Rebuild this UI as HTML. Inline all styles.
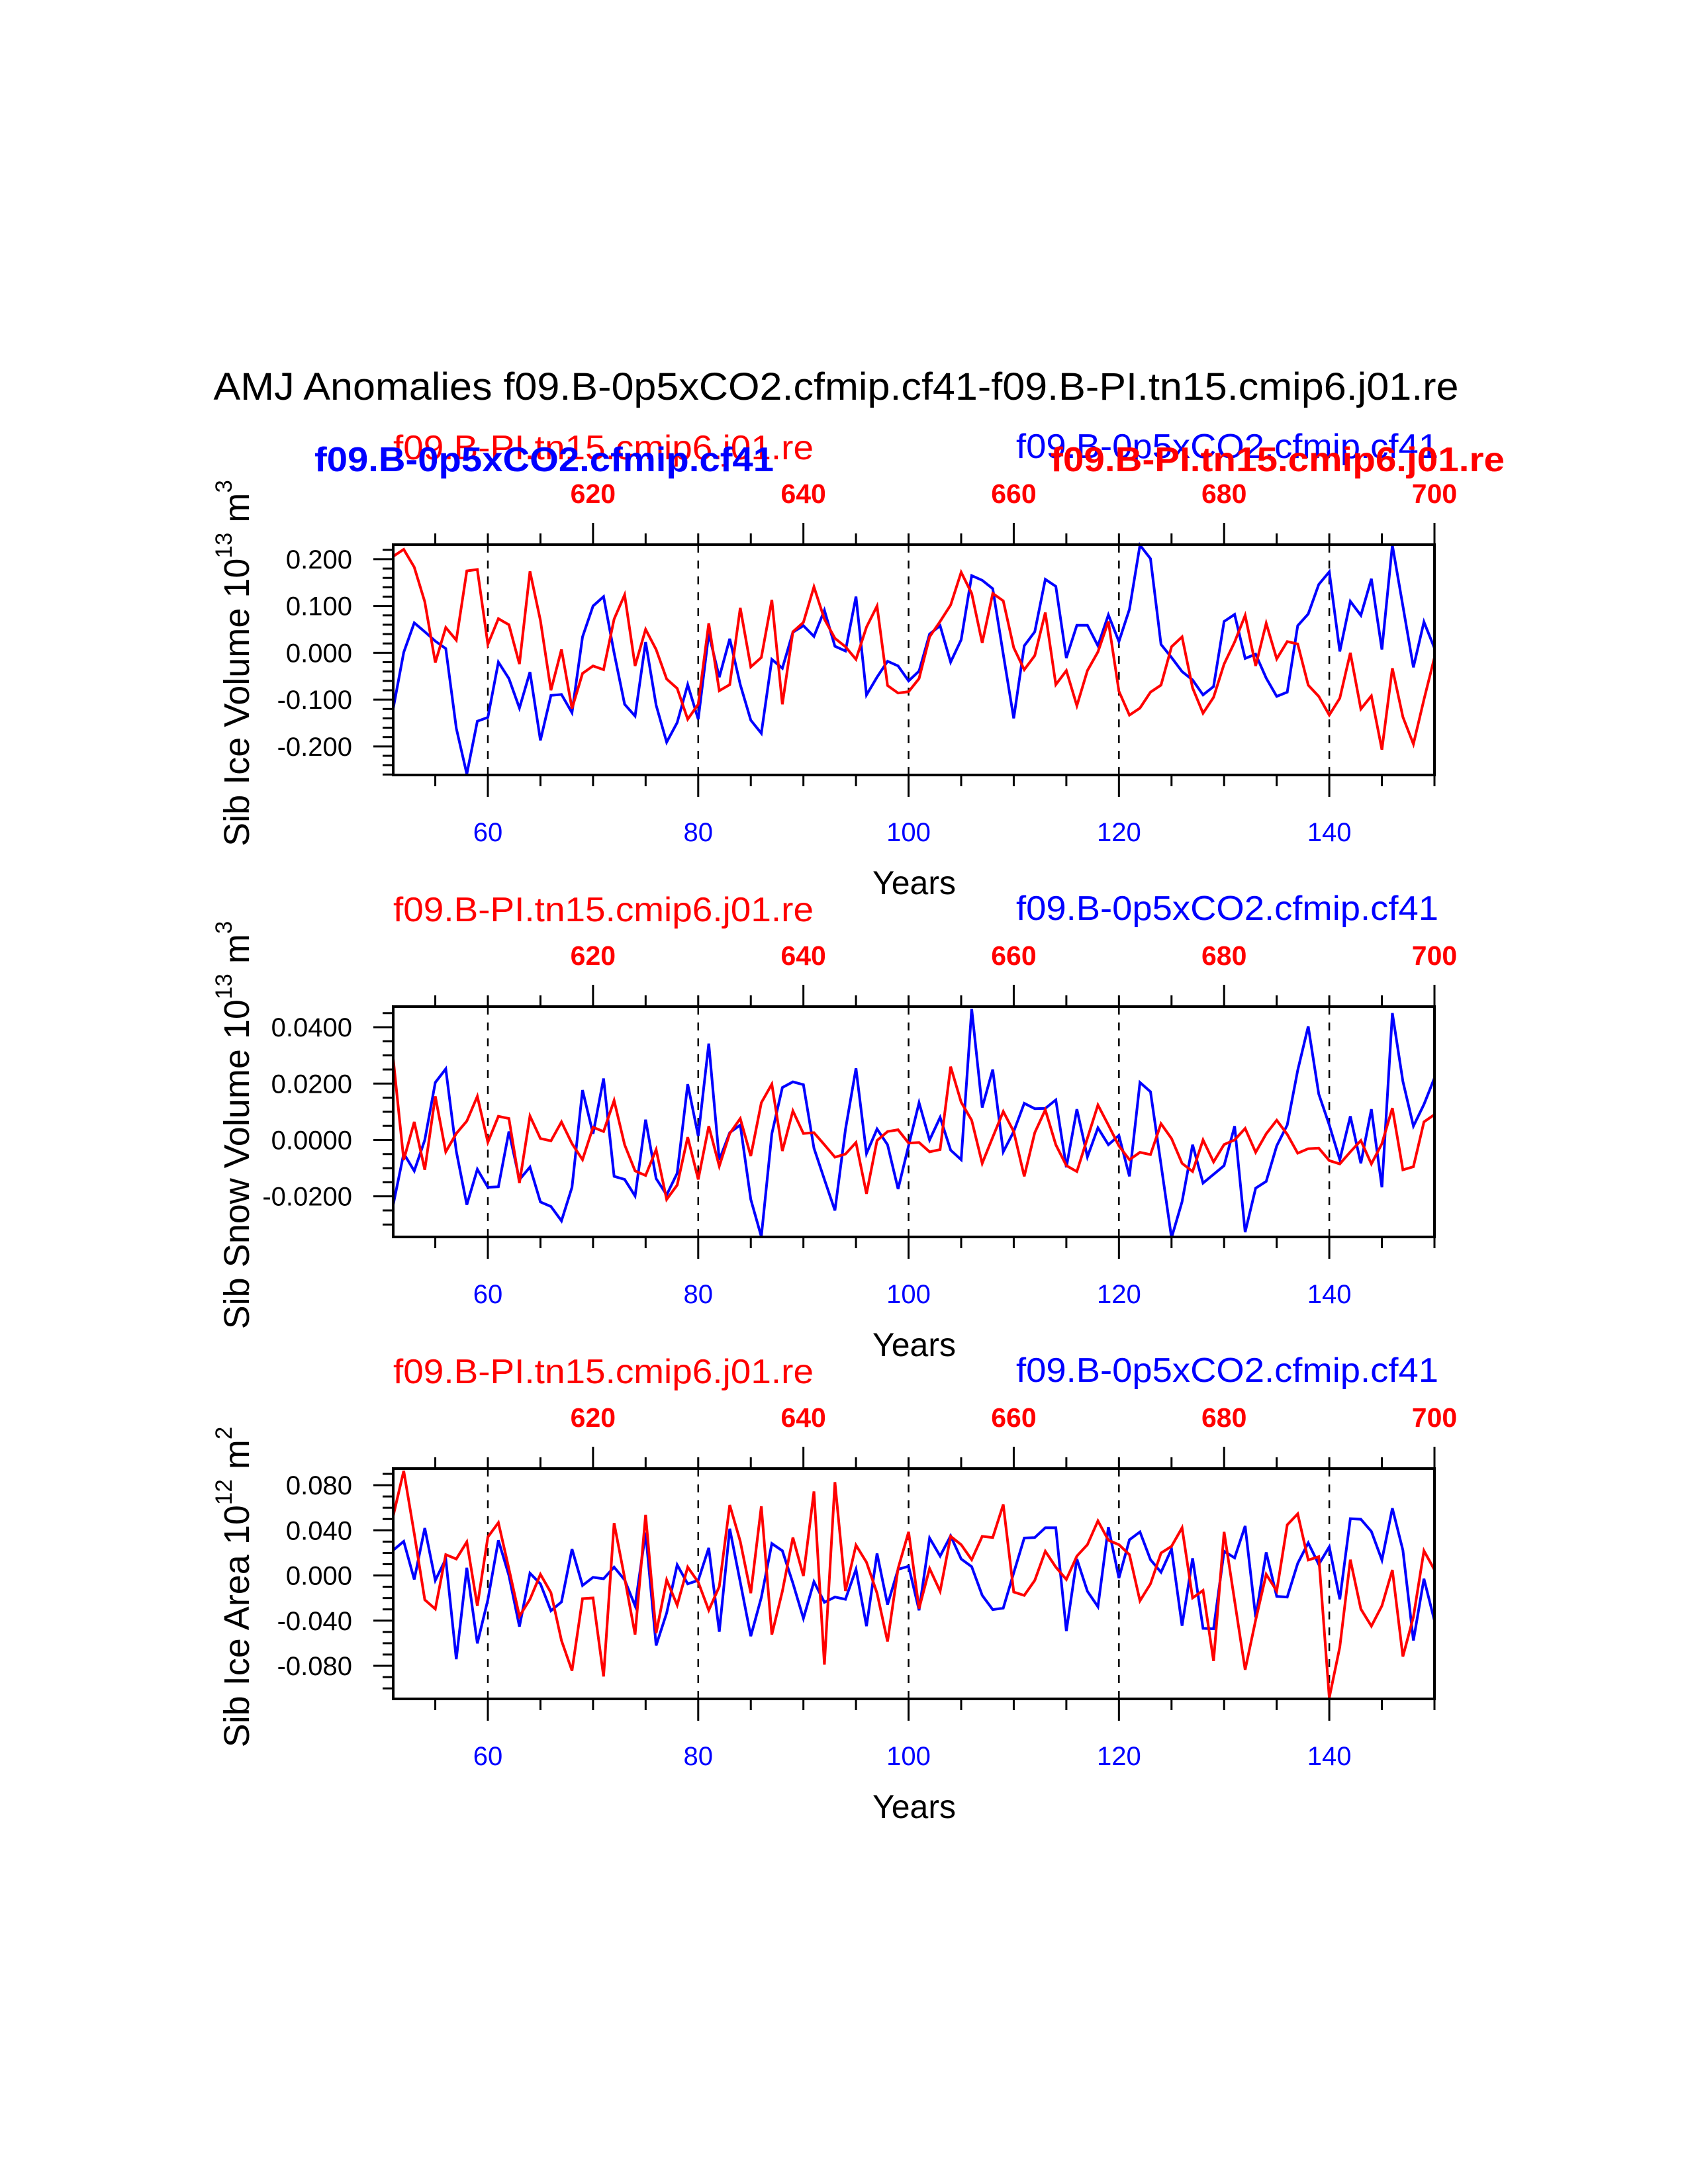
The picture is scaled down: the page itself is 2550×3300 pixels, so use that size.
<!DOCTYPE html>
<html><head><meta charset="utf-8"><style>
html,body{margin:0;padding:0;background:#fff;}
svg{display:block;font-family:"Liberation Sans",Arial,sans-serif;}
</style></head><body>
<svg id="chart" width="2550" height="3300" viewBox="0 0 2550 3300" xmlns="http://www.w3.org/2000/svg">
<text x="1263" y="604" font-size="58" text-anchor="middle" textLength="1881" lengthAdjust="spacingAndGlyphs">AMJ Anomalies f09.B-0p5xCO2.cfmip.cf41-f09.B-PI.tn15.cmip6.j01.re</text>
</svg>
<script>
const years = [];
for (let y = 51; y <= 150; y++) years.push(y);
const bottomTicks = [60, 80, 100, 120, 140];
const topTickLabels = [620, 640, 660, 680, 700];
const yearOffset = 550;

const iceVolBlue = [-0.119,0.001,0.064,0.045,0.025,0.009,-0.161,-0.259,-0.146,-0.138,
-0.02,-0.055,-0.118,-0.041,-0.187,-0.091,-0.089,-0.128,0.034,0.1,
0.12,0.0,-0.11,-0.135,0.023,-0.112,-0.191,-0.149,-0.068,-0.142,
0.041,-0.052,0.03,-0.068,-0.144,-0.172,-0.014,-0.033,0.044,0.058,
0.035,0.091,0.014,0.004,0.12,-0.09,-0.052,-0.018,-0.028,
-0.06,-0.039,0.04,0.058,-0.02,0.028,0.165,0.155,0.137,-0.003,
-0.14,0.015,0.045,0.157,0.142,-0.011,0.059,0.059,0.015,0.081,
0.024,0.093,0.23,0.201,0.018,-0.01,-0.04,-0.058,-0.09,-0.072,
0.067,0.082,-0.012,-0.003,-0.054,-0.093,-0.084,0.058,0.083,0.146,
0.173,0.003,0.11,0.08,0.158,0.007,0.23,0.1,-0.031,0.066,0.01];
const iceVolRed = [0.206,0.221,0.183,0.109,-0.021,0.054,0.027,0.175,0.178,0.018,
0.073,0.06,-0.024,0.174,0.069,-0.08,0.007,-0.119,-0.044,-0.028,
-0.036,0.072,0.124,-0.028,0.05,0.007,-0.056,-0.076,-0.142,-0.11,
0.063,-0.081,-0.068,0.096,-0.03,-0.01,0.113,-0.11,0.045,0.065,
0.141,0.072,0.031,0.013,-0.014,0.055,0.1,-0.07,-0.086,
-0.083,-0.055,0.034,0.067,0.102,0.172,0.127,0.021,0.127,0.111,
0.011,-0.036,-0.006,0.086,-0.068,-0.038,-0.113,-0.038,0.002,0.067,
-0.082,-0.133,-0.118,-0.084,-0.069,0.013,0.034,-0.075,-0.129,-0.095,
-0.024,0.023,0.08,-0.028,0.063,-0.013,0.024,0.019,-0.069,-0.093,
-0.133,-0.097,0,-0.12,-0.092,-0.207,-0.033,-0.137,-0.195,-0.1,-0.01];
const snowBlue = [-0.023,-0.0048,-0.011,0.0,0.0204,0.0252,-0.004,-0.023,-0.0104,-0.0168,
-0.0166,0.003,-0.0141,-0.0096,-0.022,-0.0236,-0.0287,-0.0168,0.0177,0.0022,
0.0218,-0.0129,-0.014,-0.0199,0.0072,-0.0137,-0.0195,-0.0118,0.0198,0.0014,
0.0342,-0.0071,0.0026,0.0053,-0.0211,-0.0343,0.0022,0.0186,0.0206,0.0196,
-0.0029,-0.014,-0.025,0.0037,0.0254,-0.0048,0.0039,-0.0017,-0.0174,
-0.002,0.0132,0.0,0.008,-0.0036,-0.007,0.0465,0.0115,0.025,-0.0042,
0.003,0.013,0.0111,0.0112,0.0142,-0.0097,0.0109,-0.006,0.0043,-0.0017,
0.0016,-0.0129,0.0204,0.0171,-0.0087,-0.0347,-0.0219,-0.0017,-0.0153,-0.0122,
-0.0091,0.0049,-0.0327,-0.0171,-0.0147,-0.0021,0.0053,0.0247,0.0403,0.0163,
0.0053,-0.007,0.0084,-0.0083,0.0109,-0.0168,0.045,0.0208,0.0049,0.0126,0.022];
const snowRed = [0.0289,-0.0071,0.0064,-0.0106,0.0155,-0.0042,0.0023,0.0067,0.0155,-0.0008,
0.0084,0.0076,-0.0153,0.0085,0.0005,-0.0003,0.0064,-0.0013,-0.007,0.0045,
0.003,0.014,-0.0017,-0.011,-0.0126,-0.0034,-0.0211,-0.016,0.001,-0.014,
0.0049,-0.0093,0.0023,0.0076,-0.0057,0.0132,0.0198,-0.0039,0.0103,0.0023,
0.0026,-0.0017,-0.0061,-0.005,-0.0009,-0.0191,-0.0002,0.003,0.0036,
-0.0011,-0.0009,-0.0042,-0.0034,0.026,0.0134,0.007,-0.0083,0.001,0.0101,
0.003,-0.0129,0.0026,0.0107,-0.0017,-0.0091,-0.0112,0.0006,0.0124,0.0053,
-0.0021,-0.007,-0.0044,-0.0052,0.0058,0.0005,-0.0083,-0.0112,0.0,-0.0078,
-0.0016,0.0,0.0041,-0.0044,0.0022,0.007,0.002,-0.0047,-0.0031,-0.0029,
-0.0073,-0.0085,-0.0042,-0.0002,-0.0085,-0.0013,0.0113,-0.0106,-0.0095,0.0064,0.009];
const areaBlue = [0.0224,0.0302,-0.0035,0.042,-0.0043,0.0146,-0.0741,0.0068,-0.0601,-0.0215,
0.0312,0.0,-0.0453,0.002,-0.0074,-0.0312,-0.0234,0.0234,-0.0088,-0.0016,
-0.0029,0.0074,-0.0039,-0.0269,0.038,-0.062,-0.0332,0.0094,-0.0074,-0.0043,
0.0244,-0.0498,0.0414,-0.0059,-0.0537,-0.0195,0.0283,0.0219,-0.0068,-0.038,
-0.0055,-0.0238,-0.0191,-0.0211,0.0055,-0.0449,0.0195,-0.0258,0.0055,
0.0082,-0.0308,0.0332,0.0172,0.0351,0.0146,0.0078,-0.0176,-0.0302,-0.0289,
0.0023,0.0332,0.0336,0.0423,0.0423,-0.0492,0.0146,-0.014,-0.0277,0.0429,
-0.0023,0.0316,0.0386,0.014,0.0029,0.0234,-0.0445,0.0152,-0.0468,-0.0472,
0.0215,0.0156,0.0439,-0.0371,0.0205,-0.0185,-0.0191,0.0107,0.0289,0.0098,
0.0254,-0.0211,0.0503,0.0498,0.039,0.0137,0.0595,0.0224,-0.0576,-0.0029,-0.04];
const areaRed = [0.0527,0.0927,0.0371,-0.0215,-0.0297,0.0185,0.0146,0.0297,-0.0269,0.0341,
0.0468,0.0059,-0.0361,-0.0211,0.001,-0.0152,-0.0576,-0.0843,-0.0205,-0.0199,
-0.0894,0.0464,-0.002,-0.0523,0.0537,-0.0511,-0.0039,-0.0263,0.0074,-0.0059,
-0.0308,-0.0098,0.0624,0.0302,-0.0156,0.0613,-0.0523,-0.014,0.0336,-0.0004,
0.0745,-0.079,0.0827,-0.0137,0.0269,0.0117,-0.0156,-0.0585,0.0062,
0.0386,-0.0293,0.0062,-0.014,0.0347,0.0273,0.014,0.0347,0.0336,0.0628,
-0.0146,-0.0176,-0.0043,0.0215,0.0074,-0.0035,0.0172,0.0273,0.0484,0.0312,
0.0273,0.0185,-0.0224,-0.0074,0.0199,0.0258,0.0423,-0.0199,-0.0133,-0.0757,
0.0386,-0.0224,-0.0835,-0.0394,0.001,-0.0137,0.0449,0.0546,0.0137,0.0166,
-0.1083,-0.0634,0.014,-0.0297,-0.0449,-0.0269,0.0049,-0.0718,-0.0367,0.0219,0.005];

const ticks1 = [0.2, 0.1, 0, -0.1, -0.2];
const tickLabels1 = ["0.200","0.100","0.000","-0.100","-0.200"];
const ticks2 = [0.04, 0.02, 0, -0.02];
const tickLabels2 = ["0.0400","0.0200","0.0000","-0.0200"];
const ticks3 = [0.08, 0.04, 0, -0.04, -0.08];
const tickLabels3 = ["0.080","0.040","0.000","-0.040","-0.080"];

const NS = "http://www.w3.org/2000/svg";
const svg = document.getElementById("chart");
const X0 = 594, X1 = 2167, XMIN = 51, XMAX = 150;
function xs(v) { return X0 + (v - XMIN) / (XMAX - XMIN) * (X1 - X0); }
function mk(tag, attrs, parent) {
  const e = document.createElementNS(NS, tag);
  for (const k in attrs) e.setAttribute(k, attrs[k]);
  (parent || svg).appendChild(e);
  return e;
}

function panel(cfg) {
  const g = mk("g", {});
  
  
  const T = cfg.top, B = cfg.bot;
  const ys = v => T + (cfg.ymax - v) / (cfg.ymax - cfg.ymin) * (B - T);
  bottomTicks.forEach(t => {
    const l = mk("line", {x1: xs(t), x2: xs(t), y1: T, y2: B, stroke: "#000", "stroke-width": 2.5, "stroke-dasharray": "12,12"}, g);
    
    
  });
  function series(vals, color, nm) {
    const pts = vals.map((v, i) => xs(years[i]).toFixed(1) + "," + ys(v).toFixed(1)).join(" ");
    const p = mk("polyline", {points: pts, fill: "none", stroke: color, "stroke-width": 4, "stroke-linejoin": "miter"}, g);
    
    
  }
  series(cfg.blue, "#0000ff", "blue-series-line");
  series(cfg.red, "#ff0000", "red-series-line");
  const r = mk("rect", {x: X0, y: T, width: X1 - X0, height: B - T, fill: "none", stroke: "#000", "stroke-width": 4}, g);
  
  
  for (let yr = 55; yr <= 150; yr += 5) {
    const major = yr % 20 === 0 && yr >= 60 && yr <= 140;
    const topMajor = (yr - 10) % 20 === 0 && yr >= 70;
    mk("line", {x1: xs(yr), x2: xs(yr), y1: B, y2: B + (major ? 33 : 17), stroke: "#000", "stroke-width": 3}, g);
    mk("line", {x1: xs(yr), x2: xs(yr), y1: T, y2: T - (topMajor ? 33 : 17), stroke: "#000", "stroke-width": 3}, g);
  }
  bottomTicks.forEach(t => {
    const tx = mk("text", {x: xs(t), y: B + 100, "font-size": 40, fill: "#0000ff", "text-anchor": "middle"}, g);
    tx.textContent = t;
    
    
  });
  topTickLabels.forEach(t => {
    const tx = mk("text", {x: xs(t - yearOffset), y: T - 63, "font-size": 41, "font-weight": "bold", fill: "#ff0000", "text-anchor": "middle"}, g);
    tx.textContent = t;
    
    
  });
  for (let v = Math.ceil(cfg.ymin / cfg.minor) * cfg.minor; v <= cfg.ymax + 1e-9; v += cfg.minor) {
    const isMaj = cfg.ticks.some(t => Math.abs(t - v) < cfg.minor / 10);
    mk("line", {x1: X0, x2: X0 - (isMaj ? 30 : 16), y1: ys(v), y2: ys(v), stroke: "#000", "stroke-width": 3}, g);
  }
  cfg.ticks.forEach((t, i) => {
    const tx = mk("text", {x: 532, y: ys(t) + 14, "font-size": 40, "text-anchor": "end"}, g);
    tx.textContent = cfg.tickLabels[i];
    
    
  });
  const xt = mk("text", {x: 1381, y: B + 180, "font-size": 50, "text-anchor": "middle"}, g);
  xt.textContent = "Years";
  
  
  const cy = (T + B) / 2 + 5;
  const yt = mk("text", {x: 0, y: 0, "font-size": 54, "text-anchor": "middle", transform: "translate(376," + cy + ") rotate(-90)"}, g);
  
  
  cfg.ylabel.forEach(p => {
    const ts = mk("tspan", p.sup ? {"font-size": 35, dy: -26} : (p.after ? {dy: 26} : {}), yt);
    ts.textContent = p.t;
  });
  const lab = (txt, x, y, w, col, bold, nm) => {
    const a = {x: x, y: y, "font-size": 52, fill: col, textLength: w, lengthAdjust: "spacingAndGlyphs"};
    if (bold) a["font-weight"] = "bold";
    const tx = mk("text", a, g);
    tx.textContent = txt;
    
    
  };
  const L = T - 129;
  lab("f09.B-PI.tn15.cmip6.j01.re", 594, L, 635, "#ff0000", false, "red-case-label");
  lab("f09.B-0p5xCO2.cfmip.cf41", 1535, L - 2, 638, "#0000ff", false, "blue-case-label");
  if (cfg.bold) {
    lab("f09.B-0p5xCO2.cfmip.cf41", 475, L + 18, 694, "#0000ff", true, "blue-case-label-bold");
    lab("f09.B-PI.tn15.cmip6.j01.re", 1587, L + 18, 686, "#ff0000", true, "red-case-label-bold");
  }
}

panel({name: "sib-ice-volume-panel", top: 823, bot: 1171, ymin: -0.261, ymax: 0.231, minor: 0.02,
  ticks: ticks1, tickLabels: tickLabels1, blue: iceVolBlue, red: iceVolRed, bold: true,
  ylabel: [{t: "Sib Ice Volume 10"}, {t: "13", sup: true}, {t: " m", after: true}, {t: "3", sup: true}]});
panel({name: "sib-snow-volume-panel", top: 1521, bot: 1869, ymin: -0.0344, ymax: 0.0473, minor: 0.005,
  ticks: ticks2, tickLabels: tickLabels2, blue: snowBlue, red: snowRed, bold: false,
  ylabel: [{t: "Sib Snow Volume 10"}, {t: "13", sup: true}, {t: " m", after: true}, {t: "3", sup: true}]});
panel({name: "sib-ice-area-panel", top: 2219, bot: 2567, ymin: -0.1093, ymax: 0.0947, minor: 0.01,
  ticks: ticks3, tickLabels: tickLabels3, blue: areaBlue, red: areaRed, bold: false,
  ylabel: [{t: "Sib Ice Area 10"}, {t: "12", sup: true}, {t: " m", after: true}, {t: "2", sup: true}]});
</script>
</body></html>
